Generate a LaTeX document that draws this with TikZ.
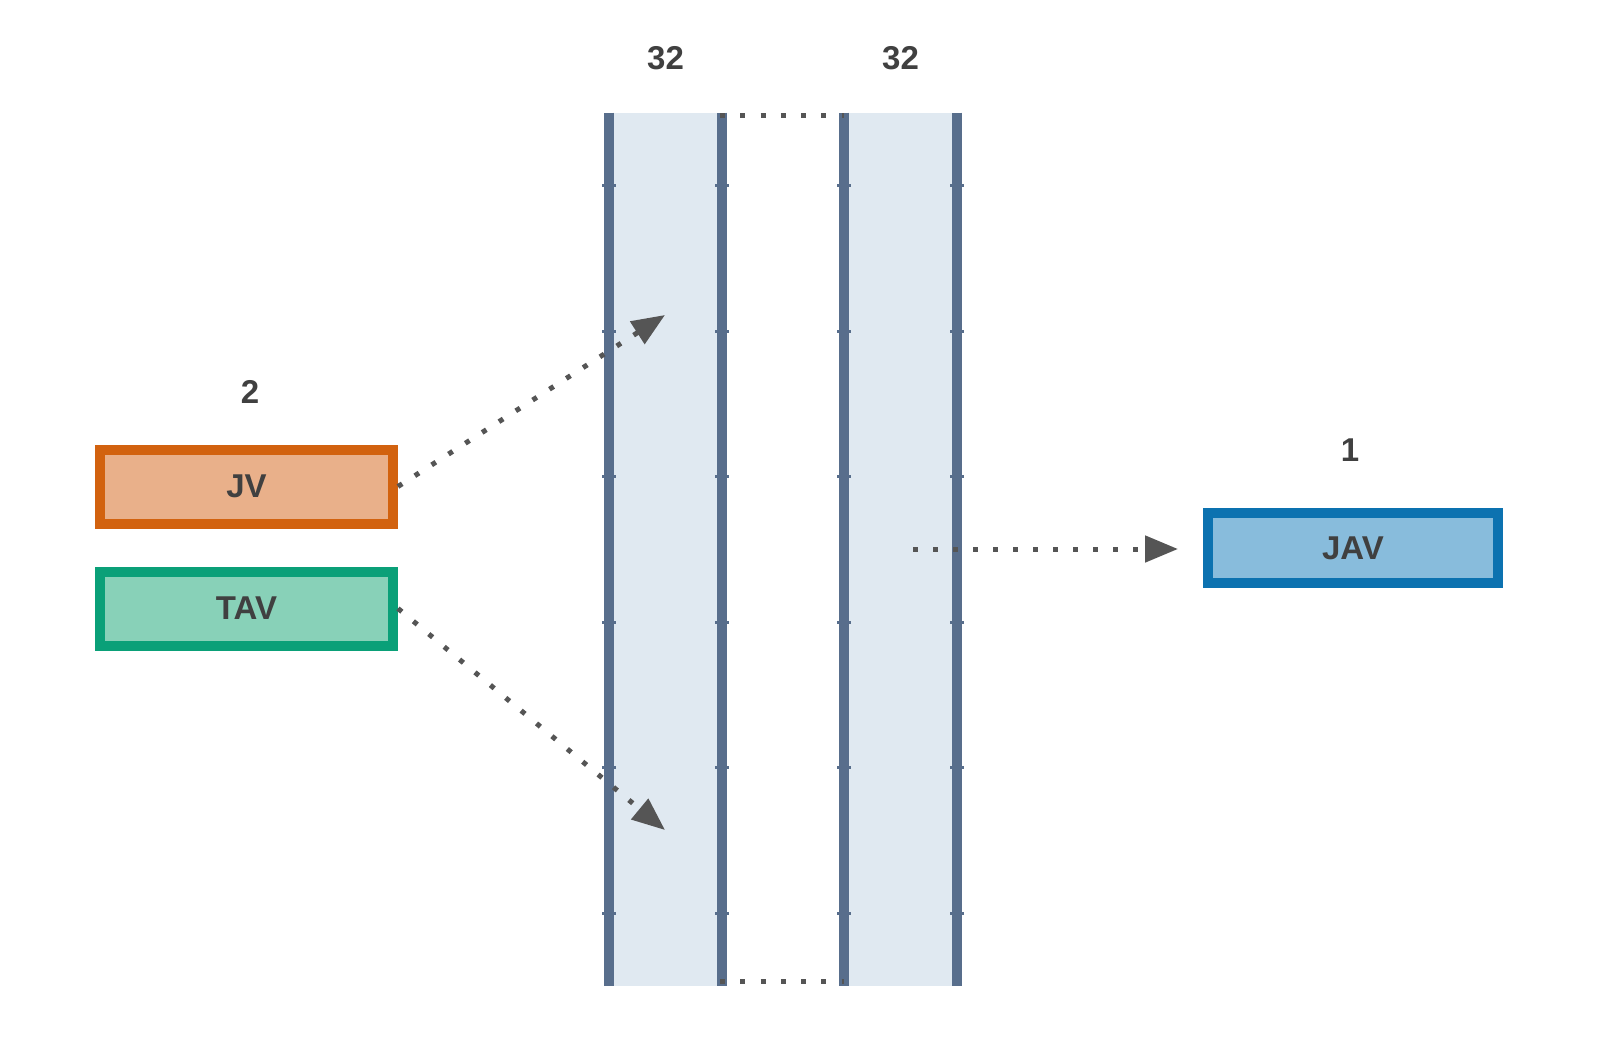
\documentclass[tikz,border=0pt]{standalone}
\usepackage{fontspec}
\setmainfont{Liberation Sans}
\usetikzlibrary{arrows.meta}
\definecolor{txt}{HTML}{404040}
\definecolor{colfillc}{HTML}{E0E9F1}
\definecolor{collinec}{HTML}{586E8C}
\definecolor{tickc}{HTML}{586E8C}
\definecolor{dotc}{HTML}{555555}
\definecolor{jvfill}{HTML}{E9B08A}
\definecolor{jvline}{HTML}{D2620F}
\definecolor{tavfill}{HTML}{88D1B8}
\definecolor{tavline}{HTML}{0AA078}
\definecolor{javfill}{HTML}{88BCDC}
\definecolor{javline}{HTML}{0C72B0}
\tikzset{
  lbl/.style={text=txt, font=\fontsize{16.5}{20}\selectfont\bfseries, inner sep=0pt},
  colbody/.style={fill=colfillc, draw=none, minimum width=56.5pt, minimum height=436.5pt, inner sep=0pt},
  colborder/.style={draw=collinec, line width=5pt},
  tickmark/.style={draw=tickc, line width=1.5pt},
  inbox/.style={line width=5pt, minimum width=146.5pt, minimum height=37pt, inner sep=0pt,
     text=txt, font=\fontsize{16.5}{20}\selectfont\bfseries},
  gapdots/.style={draw=dotc, line width=2.5pt, dash pattern=on 2.5pt off 7.65pt},
  flow/.style={draw=dotc, line width=2.5pt, dash pattern=on 2.5pt off 7.5pt,
     -{Triangle[length=16.5pt,width=13pt]}, color=dotc}
}
\begin{document}
\begin{tikzpicture}[x=0.5pt,y=-0.5pt]
\useasboundingbox (0,0) rectangle (1602,1044);
% columns
\node[colbody] (c1) at (665.5,549.5) {};
\node[colbody] (c2) at (900.5,549.5) {};
\foreach \c in {c1,c2}{
  \draw[colborder] (\c.north west) -- (\c.south west);
  \draw[colborder] (\c.north east) -- (\c.south east);
}
% ticks
\foreach \xx in {609,722,844,957}{
  \foreach \yy in {185.75,331.25,476.75,622.25,767.75,913.25}{
    \draw[tickmark] (\xx-7,\yy) -- (\xx+7,\yy);
  }
}
% dotted links between columns
\draw[gapdots] ([yshift=-1.5pt]c1.north east) ++(-2.5,0) -- ([yshift=-1.5pt]c2.north west);
\draw[gapdots] ([yshift=2.5pt]c1.south east) ++(-2.5,0) -- ([yshift=2.5pt]c2.south west);
% labels
\node[lbl] (l32a) at (c1.center |- 0,58) {32};
\node[lbl] (l32b) at (c2.center |- 0,58) {32};
\node[lbl] (l2) at (250,392) {2};
\node[lbl] (l1) at (1350,450) {1};
% boxes
\node[inbox, draw=jvline, fill=jvfill] (jv) at (246.5,486.5) {JV};
\node[inbox, draw=tavline, fill=tavfill] (tav) at (246.5,608.5) {TAV};
\node[inbox, draw=javline, fill=javfill, minimum width=145pt, minimum height=35pt] (jav) at (1353,548) {JAV};
% arrow targets
\coordinate (t1) at (665,315);
\coordinate (t2) at (665,830);
\coordinate (s3) at (913,549);
\coordinate (t3) at (1178,549);
\draw[flow] (jv.east) -- (t1);
\draw[flow] (tav.east) -- (t2);
\draw[flow] (s3) -- (t3);
\end{tikzpicture}
\end{document}
